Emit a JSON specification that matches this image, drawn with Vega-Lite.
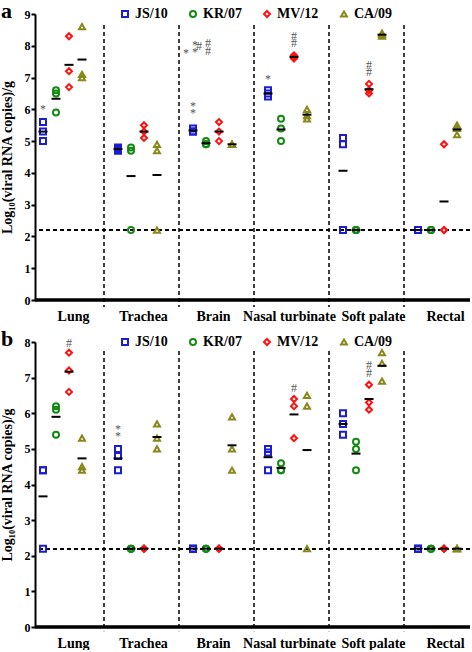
{
  "$schema": "https://vega.github.io/schema/vega-lite/v6.json",
  "padding": {"left": 0, "top": 0, "right": 0, "bottom": 0},
  "spacing": 5,
  "datasets": {
    "tissues": [{"tissue": "Trachea"}, {"tissue": "Brain"}, {"tissue": "Nasal turbinate"}, {"tissue": "Soft palate"}, {"tissue": "Rectal"}],
    "a": [
      {"tissue": "Lung", "virus": "JS/10", "value": 5.6}, {"tissue": "Lung", "virus": "JS/10", "value": 5.3}, {"tissue": "Lung", "virus": "JS/10", "value": 5.0},
      {"tissue": "Lung", "virus": "KR/07", "value": 6.6}, {"tissue": "Lung", "virus": "KR/07", "value": 6.5}, {"tissue": "Lung", "virus": "KR/07", "value": 5.9},
      {"tissue": "Lung", "virus": "MV/12", "value": 8.3}, {"tissue": "Lung", "virus": "MV/12", "value": 7.2}, {"tissue": "Lung", "virus": "MV/12", "value": 6.7},
      {"tissue": "Lung", "virus": "CA/09", "value": 8.6}, {"tissue": "Lung", "virus": "CA/09", "value": 7.1}, {"tissue": "Lung", "virus": "CA/09", "value": 7.0},
      {"tissue": "Trachea", "virus": "JS/10", "value": 4.8}, {"tissue": "Trachea", "virus": "JS/10", "value": 4.75}, {"tissue": "Trachea", "virus": "JS/10", "value": 4.7},
      {"tissue": "Trachea", "virus": "KR/07", "value": 4.8}, {"tissue": "Trachea", "virus": "KR/07", "value": 4.7}, {"tissue": "Trachea", "virus": "KR/07", "value": 2.2},
      {"tissue": "Trachea", "virus": "MV/12", "value": 5.5}, {"tissue": "Trachea", "virus": "MV/12", "value": 5.3}, {"tissue": "Trachea", "virus": "MV/12", "value": 5.1},
      {"tissue": "Trachea", "virus": "CA/09", "value": 4.9}, {"tissue": "Trachea", "virus": "CA/09", "value": 4.7}, {"tissue": "Trachea", "virus": "CA/09", "value": 2.2},
      {"tissue": "Brain", "virus": "JS/10", "value": 5.4}, {"tissue": "Brain", "virus": "JS/10", "value": 5.3}, {"tissue": "Brain", "virus": "JS/10", "value": 5.3},
      {"tissue": "Brain", "virus": "KR/07", "value": 5.0}, {"tissue": "Brain", "virus": "KR/07", "value": 4.9}, {"tissue": "Brain", "virus": "KR/07", "value": 4.9},
      {"tissue": "Brain", "virus": "MV/12", "value": 5.6}, {"tissue": "Brain", "virus": "MV/12", "value": 5.3}, {"tissue": "Brain", "virus": "MV/12", "value": 5.0},
      {"tissue": "Brain", "virus": "CA/09", "value": 4.9}, {"tissue": "Brain", "virus": "CA/09", "value": 4.9}, {"tissue": "Brain", "virus": "CA/09", "value": 4.9},
      {"tissue": "Nasal turbinate", "virus": "JS/10", "value": 6.6}, {"tissue": "Nasal turbinate", "virus": "JS/10", "value": 6.5}, {"tissue": "Nasal turbinate", "virus": "JS/10", "value": 6.4},
      {"tissue": "Nasal turbinate", "virus": "KR/07", "value": 5.7}, {"tissue": "Nasal turbinate", "virus": "KR/07", "value": 5.4}, {"tissue": "Nasal turbinate", "virus": "KR/07", "value": 5.0},
      {"tissue": "Nasal turbinate", "virus": "MV/12", "value": 7.7}, {"tissue": "Nasal turbinate", "virus": "MV/12", "value": 7.65}, {"tissue": "Nasal turbinate", "virus": "MV/12", "value": 7.6},
      {"tissue": "Nasal turbinate", "virus": "CA/09", "value": 6.0}, {"tissue": "Nasal turbinate", "virus": "CA/09", "value": 5.8}, {"tissue": "Nasal turbinate", "virus": "CA/09", "value": 5.7},
      {"tissue": "Soft palate", "virus": "JS/10", "value": 5.1}, {"tissue": "Soft palate", "virus": "JS/10", "value": 4.9}, {"tissue": "Soft palate", "virus": "JS/10", "value": 2.2},
      {"tissue": "Soft palate", "virus": "KR/07", "value": 2.2}, {"tissue": "Soft palate", "virus": "KR/07", "value": 2.2}, {"tissue": "Soft palate", "virus": "KR/07", "value": 2.2},
      {"tissue": "Soft palate", "virus": "MV/12", "value": 6.8}, {"tissue": "Soft palate", "virus": "MV/12", "value": 6.6}, {"tissue": "Soft palate", "virus": "MV/12", "value": 6.5},
      {"tissue": "Soft palate", "virus": "CA/09", "value": 8.4}, {"tissue": "Soft palate", "virus": "CA/09", "value": 8.35}, {"tissue": "Soft palate", "virus": "CA/09", "value": 8.3},
      {"tissue": "Rectal", "virus": "JS/10", "value": 2.2}, {"tissue": "Rectal", "virus": "JS/10", "value": 2.2}, {"tissue": "Rectal", "virus": "JS/10", "value": 2.2},
      {"tissue": "Rectal", "virus": "KR/07", "value": 2.2}, {"tissue": "Rectal", "virus": "KR/07", "value": 2.2}, {"tissue": "Rectal", "virus": "KR/07", "value": 2.2},
      {"tissue": "Rectal", "virus": "MV/12", "value": 4.9}, {"tissue": "Rectal", "virus": "MV/12", "value": 2.2}, {"tissue": "Rectal", "virus": "MV/12", "value": 2.2},
      {"tissue": "Rectal", "virus": "CA/09", "value": 5.5}, {"tissue": "Rectal", "virus": "CA/09", "value": 5.4}, {"tissue": "Rectal", "virus": "CA/09", "value": 5.2}
    ],
    "b": [
      {"tissue": "Lung", "virus": "JS/10", "value": 4.4}, {"tissue": "Lung", "virus": "JS/10", "value": 4.4}, {"tissue": "Lung", "virus": "JS/10", "value": 2.2},
      {"tissue": "Lung", "virus": "KR/07", "value": 6.2}, {"tissue": "Lung", "virus": "KR/07", "value": 6.1}, {"tissue": "Lung", "virus": "KR/07", "value": 5.4},
      {"tissue": "Lung", "virus": "MV/12", "value": 7.7}, {"tissue": "Lung", "virus": "MV/12", "value": 7.2}, {"tissue": "Lung", "virus": "MV/12", "value": 6.6},
      {"tissue": "Lung", "virus": "CA/09", "value": 5.3}, {"tissue": "Lung", "virus": "CA/09", "value": 4.5}, {"tissue": "Lung", "virus": "CA/09", "value": 4.4},
      {"tissue": "Trachea", "virus": "JS/10", "value": 5.0}, {"tissue": "Trachea", "virus": "JS/10", "value": 4.8}, {"tissue": "Trachea", "virus": "JS/10", "value": 4.4},
      {"tissue": "Trachea", "virus": "KR/07", "value": 2.2}, {"tissue": "Trachea", "virus": "KR/07", "value": 2.2}, {"tissue": "Trachea", "virus": "KR/07", "value": 2.2},
      {"tissue": "Trachea", "virus": "MV/12", "value": 2.2}, {"tissue": "Trachea", "virus": "MV/12", "value": 2.2}, {"tissue": "Trachea", "virus": "MV/12", "value": 2.2},
      {"tissue": "Trachea", "virus": "CA/09", "value": 5.7}, {"tissue": "Trachea", "virus": "CA/09", "value": 5.3}, {"tissue": "Trachea", "virus": "CA/09", "value": 5.0},
      {"tissue": "Brain", "virus": "JS/10", "value": 2.2}, {"tissue": "Brain", "virus": "JS/10", "value": 2.2}, {"tissue": "Brain", "virus": "JS/10", "value": 2.2},
      {"tissue": "Brain", "virus": "KR/07", "value": 2.2}, {"tissue": "Brain", "virus": "KR/07", "value": 2.2}, {"tissue": "Brain", "virus": "KR/07", "value": 2.2},
      {"tissue": "Brain", "virus": "MV/12", "value": 2.2}, {"tissue": "Brain", "virus": "MV/12", "value": 2.2}, {"tissue": "Brain", "virus": "MV/12", "value": 2.2},
      {"tissue": "Brain", "virus": "CA/09", "value": 5.9}, {"tissue": "Brain", "virus": "CA/09", "value": 5.0}, {"tissue": "Brain", "virus": "CA/09", "value": 4.4},
      {"tissue": "Nasal turbinate", "virus": "JS/10", "value": 5.0}, {"tissue": "Nasal turbinate", "virus": "JS/10", "value": 4.9}, {"tissue": "Nasal turbinate", "virus": "JS/10", "value": 4.4},
      {"tissue": "Nasal turbinate", "virus": "KR/07", "value": 4.6}, {"tissue": "Nasal turbinate", "virus": "KR/07", "value": 4.4}, {"tissue": "Nasal turbinate", "virus": "KR/07", "value": 4.4},
      {"tissue": "Nasal turbinate", "virus": "MV/12", "value": 6.4}, {"tissue": "Nasal turbinate", "virus": "MV/12", "value": 6.2}, {"tissue": "Nasal turbinate", "virus": "MV/12", "value": 5.3},
      {"tissue": "Nasal turbinate", "virus": "CA/09", "value": 6.5}, {"tissue": "Nasal turbinate", "virus": "CA/09", "value": 6.2}, {"tissue": "Nasal turbinate", "virus": "CA/09", "value": 2.2},
      {"tissue": "Soft palate", "virus": "JS/10", "value": 6.0}, {"tissue": "Soft palate", "virus": "JS/10", "value": 5.7}, {"tissue": "Soft palate", "virus": "JS/10", "value": 5.4},
      {"tissue": "Soft palate", "virus": "KR/07", "value": 5.2}, {"tissue": "Soft palate", "virus": "KR/07", "value": 5.0}, {"tissue": "Soft palate", "virus": "KR/07", "value": 4.4},
      {"tissue": "Soft palate", "virus": "MV/12", "value": 6.8}, {"tissue": "Soft palate", "virus": "MV/12", "value": 6.3}, {"tissue": "Soft palate", "virus": "MV/12", "value": 6.1},
      {"tissue": "Soft palate", "virus": "CA/09", "value": 7.7}, {"tissue": "Soft palate", "virus": "CA/09", "value": 7.4}, {"tissue": "Soft palate", "virus": "CA/09", "value": 6.9},
      {"tissue": "Rectal", "virus": "JS/10", "value": 2.2}, {"tissue": "Rectal", "virus": "JS/10", "value": 2.2}, {"tissue": "Rectal", "virus": "JS/10", "value": 2.2},
      {"tissue": "Rectal", "virus": "KR/07", "value": 2.2}, {"tissue": "Rectal", "virus": "KR/07", "value": 2.2}, {"tissue": "Rectal", "virus": "KR/07", "value": 2.2},
      {"tissue": "Rectal", "virus": "MV/12", "value": 2.2}, {"tissue": "Rectal", "virus": "MV/12", "value": 2.2}, {"tissue": "Rectal", "virus": "MV/12", "value": 2.2},
      {"tissue": "Rectal", "virus": "CA/09", "value": 2.2}, {"tissue": "Rectal", "virus": "CA/09", "value": 2.2}, {"tissue": "Rectal", "virus": "CA/09", "value": 2.2}
    ],
    "annA": [
      {"tissue": "Lung", "virus": "JS/10", "value": 6.0, "label": "*"},
      {"tissue": "Brain", "virus": "JS/10", "value": 6.1, "label": "*"},
      {"tissue": "Brain", "virus": "JS/10", "value": 5.88, "label": "*"},
      {"tissue": "Nasal turbinate", "virus": "JS/10", "value": 6.95, "label": "*"},
      {"tissue": "Nasal turbinate", "virus": "MV/12", "value": 8.32, "label": "#"},
      {"tissue": "Nasal turbinate", "virus": "MV/12", "value": 8.08, "label": "#"},
      {"tissue": "Soft palate", "virus": "MV/12", "value": 7.41, "label": "#"},
      {"tissue": "Soft palate", "virus": "MV/12", "value": 7.18, "label": "#"}
    ],
    "keyL": [
      {"tissue": "Brain", "virus": "JS/10", "value": 7.78, "label": "*"},
      {"tissue": "Brain", "virus": "KR/07", "value": 8.0, "label": "#"}
    ],
    "keyR": [
      {"tissue": "Brain", "virus": "JS/10", "value": 8.02, "label": "*"},
      {"tissue": "Brain", "virus": "JS/10", "value": 7.81, "label": "*"},
      {"tissue": "Brain", "virus": "KR/07", "value": 8.08, "label": "#"},
      {"tissue": "Brain", "virus": "KR/07", "value": 7.83, "label": "#"}
    ],
    "annB": [
      {"tissue": "Lung", "virus": "MV/12", "value": 7.97, "label": "#"},
      {"tissue": "Trachea", "virus": "JS/10", "value": 5.55, "label": "*"},
      {"tissue": "Trachea", "virus": "JS/10", "value": 5.35, "label": "*"},
      {"tissue": "Nasal turbinate", "virus": "MV/12", "value": 6.7, "label": "#"},
      {"tissue": "Soft palate", "virus": "MV/12", "value": 7.36, "label": "#"},
      {"tissue": "Soft palate", "virus": "MV/12", "value": 7.14, "label": "#"}
    ]
  },
  "vconcat": [
    {
      "width": 435,
      "height": 286,
      "title": {"text": "a", "anchor": "start", "frame": "bounds", "fontSize": 22, "font": "Liberation Serif", "fontWeight": "bold", "dy": 20, "dx": 1},
      "layer": [
        {
          "data": {"name": "tissues"},
          "mark": {"type": "rule", "strokeDash": [4, 3], "strokeWidth": 1.5, "color": "black"},
          "encoding": {
            "x": {"field": "tissue", "type": "nominal", "bandPosition": 0, "sort": null},
            "y": {"datum": 8.65},
            "y2": {"datum": -0.22}
          }
        },
        {
          "data": {"name": "tissues"},
          "mark": {"type": "rule", "strokeDash": [4, 3], "strokeWidth": 1.5, "color": "black"},
          "encoding": {"y": {"datum": 2.2}}
        },
        {
          "data": {"name": "tissues"},
          "mark": {"type": "rule", "strokeWidth": 2.5, "color": "black"},
          "encoding": {"y": {"datum": 0}}
        },
        {
          "data": {"name": "a"},
          "mark": {"type": "point", "filled": false, "strokeWidth": 2, "size": 36, "opacity": 1},
          "encoding": {
            "x": {"field": "tissue", "type": "nominal", "sort": null, "title": null,
                  "scale": {"domain": ["Lung", "Trachea", "Brain", "Nasal turbinate", "Soft palate", "Rectal"], "range": [-6, 444], "paddingInner": 0, "paddingOuter": 0},
                  "axis": {"labelOffset": {"condition": [
                    {"test": "datum.value === 'Lung'", "value": 7},
                    {"test": "datum.value === 'Trachea'", "value": 2},
                    {"test": "datum.value === 'Brain'", "value": -3},
                    {"test": "datum.value === 'Nasal turbinate'", "value": -2},
                    {"test": "datum.value === 'Soft palate'", "value": 7}
                  ], "value": 4}}},
            "xOffset": {"field": "virus", "type": "nominal", "sort": null,
                  "scale": {"domain": ["JS/10", "KR/07", "MV/12", "CA/09"], "range": [7.5, 59.5], "paddingInner": 0, "paddingOuter": 0}},
            "y": {"field": "value", "type": "quantitative", "title": "Log₁₀(viral RNA copies)/g",
                  "scale": {"domain": [0, 9], "nice": false, "zero": false}},
            "color": {"field": "virus", "type": "nominal", "sort": null, "title": null,
                  "scale": {"domain": ["JS/10", "KR/07", "MV/12", "CA/09"], "range": ["#1c1cd2", "#138a13", "#ff1010", "#88881a"]}},
            "shape": {"field": "virus", "type": "nominal", "sort": null, "title": null,
                  "scale": {"domain": ["JS/10", "KR/07", "MV/12", "CA/09"], "range": ["square", "circle", "diamond", "triangle-up"]}}
          }
        },
        {
          "data": {"name": "a"},
          "mark": {"type": "tick", "color": "black", "size": 9, "thickness": 2},
          "encoding": {
            "x": {"field": "tissue", "type": "nominal", "sort": null},
            "xOffset": {"field": "virus", "type": "nominal", "sort": null},
            "y": {"aggregate": "mean", "field": "value", "type": "quantitative"}
          }
        },
        {
          "data": {"name": "annA"},
          "mark": {"type": "text", "fill": "#555555", "fontSize": 12, "font": "Liberation Serif", "baseline": "middle"},
          "encoding": {
            "x": {"field": "tissue", "type": "nominal", "sort": null},
            "xOffset": {"field": "virus", "type": "nominal", "sort": null},
            "y": {"field": "value", "type": "quantitative"},
            "text": {"field": "label"}
          }
        },
        {
          "data": {"name": "keyL"},
          "mark": {"type": "text", "fill": "#555555", "fontSize": 12, "font": "Liberation Serif", "baseline": "middle", "dx": -7},
          "encoding": {
            "x": {"field": "tissue", "type": "nominal", "sort": null},
            "xOffset": {"field": "virus", "type": "nominal", "sort": null},
            "y": {"field": "value", "type": "quantitative"},
            "text": {"field": "label"}
          }
        },
        {
          "data": {"name": "keyR"},
          "mark": {"type": "text", "fill": "#555555", "fontSize": 12, "font": "Liberation Serif", "baseline": "middle", "dx": 2},
          "encoding": {
            "x": {"field": "tissue", "type": "nominal", "sort": null},
            "xOffset": {"field": "virus", "type": "nominal", "sort": null},
            "y": {"field": "value", "type": "quantitative"},
            "text": {"field": "label"}
          }
        }
      ]
    },
    {
      "width": 435,
      "height": 285,
      "title": {"text": "b", "anchor": "start", "frame": "bounds", "fontSize": 22, "font": "Liberation Serif", "fontWeight": "bold", "dy": 20, "dx": 1},
      "layer": [
        {
          "data": {"name": "tissues"},
          "mark": {"type": "rule", "strokeDash": [4, 3], "strokeWidth": 1.5, "color": "black"},
          "encoding": {
            "x": {"field": "tissue", "type": "nominal", "bandPosition": 0, "sort": null},
            "y": {"datum": 7.75},
            "y2": {"datum": -0.12}
          }
        },
        {
          "data": {"name": "tissues"},
          "mark": {"type": "rule", "strokeDash": [4, 3], "strokeWidth": 1.5, "color": "black"},
          "encoding": {"y": {"datum": 2.2}}
        },
        {
          "data": {"name": "tissues"},
          "mark": {"type": "rule", "strokeWidth": 2.5, "color": "black"},
          "encoding": {"y": {"datum": 0}}
        },
        {
          "data": {"name": "b"},
          "mark": {"type": "point", "filled": false, "strokeWidth": 2, "size": 36, "opacity": 1},
          "encoding": {
            "x": {"field": "tissue", "type": "nominal", "sort": null, "title": null,
                  "scale": {"domain": ["Lung", "Trachea", "Brain", "Nasal turbinate", "Soft palate", "Rectal"], "range": [-6, 444], "paddingInner": 0, "paddingOuter": 0},
                  "axis": {"labelOffset": {"condition": [
                    {"test": "datum.value === 'Lung'", "value": 7},
                    {"test": "datum.value === 'Trachea'", "value": 2},
                    {"test": "datum.value === 'Brain'", "value": -3},
                    {"test": "datum.value === 'Nasal turbinate'", "value": -2},
                    {"test": "datum.value === 'Soft palate'", "value": 7}
                  ], "value": 4}}},
            "xOffset": {"field": "virus", "type": "nominal", "sort": null,
                  "scale": {"domain": ["JS/10", "KR/07", "MV/12", "CA/09"], "range": [7.5, 59.5], "paddingInner": 0, "paddingOuter": 0}},
            "y": {"field": "value", "type": "quantitative", "title": "Log₁₀(viral RNA copies)/g",
                  "scale": {"domain": [0, 8], "nice": false, "zero": false}},
            "color": {"field": "virus", "type": "nominal", "sort": null, "title": null,
                  "scale": {"domain": ["JS/10", "KR/07", "MV/12", "CA/09"], "range": ["#1c1cd2", "#138a13", "#ff1010", "#88881a"]}},
            "shape": {"field": "virus", "type": "nominal", "sort": null, "title": null,
                  "scale": {"domain": ["JS/10", "KR/07", "MV/12", "CA/09"], "range": ["square", "circle", "diamond", "triangle-up"]}}
          }
        },
        {
          "data": {"name": "b"},
          "mark": {"type": "tick", "color": "black", "size": 9, "thickness": 2},
          "encoding": {
            "x": {"field": "tissue", "type": "nominal", "sort": null},
            "xOffset": {"field": "virus", "type": "nominal", "sort": null},
            "y": {"aggregate": "mean", "field": "value", "type": "quantitative"}
          }
        },
        {
          "data": {"name": "annB"},
          "mark": {"type": "text", "fill": "#555555", "fontSize": 12, "font": "Liberation Serif", "baseline": "middle"},
          "encoding": {
            "x": {"field": "tissue", "type": "nominal", "sort": null},
            "xOffset": {"field": "virus", "type": "nominal", "sort": null},
            "y": {"field": "value", "type": "quantitative"},
            "text": {"field": "label"}
          }
        }
      ]
    }
  ],
  "resolve": {
    "scale": {"y": "independent", "color": "independent", "shape": "independent"},
    "legend": {"color": "independent", "shape": "independent"}
  },
  "config": {
    "view": {"stroke": null},
    "font": "Liberation Serif",
    "axis": {"labelFont": "Liberation Serif", "labelFontWeight": "bold", "titleFont": "Liberation Serif", "titleFontWeight": "bold",
             "labelColor": "black", "titleColor": "black", "domainColor": "black", "tickColor": "black", "grid": false},
    "axisY": {"domainWidth": 2, "tickWidth": 2, "tickSize": 4, "labelFontSize": 12, "labelPadding": 1, "titleFontSize": 14, "titlePadding": 10, "tickCount": 9, "labelOverlap": false},
    "axisX": {"domain": false, "ticks": false, "labelFontSize": 14, "labelPadding": 9, "labelAngle": 0, "labelOverlap": false},
    "legend": {"orient": "none", "legendX": 83, "legendY": -7, "direction": "horizontal", "columns": 4,
               "labelFont": "Liberation Serif", "labelFontSize": 14, "labelFontWeight": "bold", "labelColor": "black",
               "symbolStrokeWidth": 2, "symbolSize": 36, "columnPadding": 18, "labelOffset": 3}
  }
}
